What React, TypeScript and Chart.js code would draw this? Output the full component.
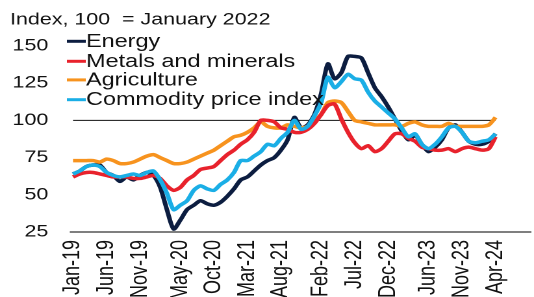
import React, { useEffect, useRef } from 'react';
import { Chart, registerables } from 'chart.js';

Chart.register(...registerables);

const months = [
  'Jan-19','Feb-19','Mar-19','Apr-19','May-19','Jun-19','Jul-19','Aug-19','Sep-19','Oct-19','Nov-19','Dec-19',
  'Jan-20','Feb-20','Mar-20','Apr-20','May-20','Jun-20','Jul-20','Aug-20','Sep-20','Oct-20','Nov-20','Dec-20',
  'Jan-21','Feb-21','Mar-21','Apr-21','May-21','Jun-21','Jul-21','Aug-21','Sep-21','Oct-21','Nov-21','Dec-21',
  'Jan-22','Feb-22','Mar-22','Apr-22','May-22','Jun-22','Jul-22','Aug-22','Sep-22','Oct-22','Nov-22','Dec-22',
  'Jan-23','Feb-23','Mar-23','Apr-23','May-23','Jun-23','Jul-23','Aug-23','Sep-23','Oct-23','Nov-23','Dec-23',
  'Jan-24','Feb-24','Mar-24','Apr-24',
];

const tickLabels = ['Jan-19','Jun-19','Nov-19','May-20','Oct-20','Mar-21','Aug-21','Feb-22','Jul-22','Dec-22','Jun-23','Nov-23','Apr-24'];

const energy = [
  64,66,69,70,70,65,63,59,62,60,63,65,
  63,55,40,27,33,40,43,46,44,43,45,49,
  54,60,62,66,70,73,75,80,87,102,95,97,
  104,118,138,128,132,143,143,142,132,122,116,109,
  101,93,87,90,84,79,82,87,95,97,92,86,
  84,84,86,91,
];

const metals = [
  62,64,65,65,64,63,62,62,62,61,61,62,
  63,61,56,53,55,60,63,67,68,69,73,77,
  80,84,87,92,100,100,99,95,94,92,92,94,
  98,104,110,111,101,92,85,81,83,79,81,86,
  91,91,88,86,82,81,80,80,81,79,81,82,
  81,80,81,89,
];

const agriculture = [
  73,73,73,73,72,74,73,71,71,72,74,76,
  77,75,73,71,71,72,74,76,78,80,83,86,
  89,90,92,95,99,96,95,95,97,96,95,96,
  100,104,112,113,112,106,100,99,98,97,97,97,
  97,96,98,99,97,96,96,96,98,96,96,96,
  96,96,97,102,
];

const commodity = [
  64,66,69,70,69,65,63,62,63,64,63,65,
  66,60,51,40,43,46,53,56,54,53,57,60,
  65,73,73,76,79,84,83,88,92,100,94,96,
  103,112,129,122,126,131,128,127,119,113,109,105,
  101,95,89,91,84,81,84,89,95,96,92,86,
  85,86,87,91,
];

const yTicks = [25, 50, 75, 100, 125, 150];

const titleText = 'Index, 100  = January 2022';

const series = [
  { label: 'Energy', data: energy, color: '#0c1d40', order: 3 },
  { label: 'Metals and minerals', data: metals, color: '#e8222c', order: 1 },
  { label: 'Agriculture', data: agriculture, color: '#f7931e', order: 2 },
  { label: 'Commodity price index', data: commodity, color: '#1aaee6', order: 0 },
];

const FONT = '"Liberation Sans", Arial, sans-serif';
const W = 411;
const H = 297;

export default function App() {
  const ref = useRef<HTMLCanvasElement | null>(null);

  useEffect(() => {
    if (!ref.current) return;
    const decor = {
      id: 'decor',
      beforeDatasetsDraw(chart: any) {
        const { ctx, chartArea, scales } = chart;
        ctx.save();
        const y100 = scales.y.getPixelForValue(100);
        ctx.strokeStyle = '#111111';
        ctx.lineWidth = 1;
        ctx.beginPath();
        ctx.moveTo(chartArea.left, y100);
        ctx.lineTo(chartArea.right, y100);
        ctx.stroke();
        ctx.strokeStyle = '#555555';
        ctx.lineWidth = 1.5;
        ctx.beginPath();
        ctx.moveTo(chartArea.left - 2.5, chartArea.bottom);
        ctx.lineTo(W - 2, chartArea.bottom);
        ctx.stroke();
        ctx.restore();
      },
      afterDraw(chart: any) {
        const { ctx } = chart;
        ctx.save();
        ctx.fillStyle = '#111111';
        ctx.textBaseline = 'middle';
        ctx.textAlign = 'left';
        ctx.font = `16.5px ${FONT}`;
        ctx.fillText(titleText, 7.7, 20);
        const rows = [41.3, 61.3, 79.9, 99.7];
        ctx.font = `18px ${FONT}`;
        series.forEach((s, i) => {
          ctx.strokeStyle = s.color;
          ctx.lineWidth = 3;
          ctx.beginPath();
          ctx.moveTo(51.5, rows[i]);
          ctx.lineTo(66, rows[i]);
          ctx.stroke();
          ctx.fillStyle = '#111111';
          ctx.fillText(s.label, 66.2, rows[i] + 0.5);
        });
        ctx.restore();
      },
    };

    const chart = new Chart(ref.current, {
      type: 'line',
      data: {
        labels: months,
        datasets: series.map((s) => ({
          label: s.label,
          data: s.data,
          borderColor: s.color,
          backgroundColor: s.color,
          borderWidth: 3.5,
          pointRadius: 0,
          tension: 0.25,
          fill: false,
          order: s.order,
        })),
      },
      options: {
        responsive: false,
        animation: false,
        devicePixelRatio: 2,
        layout: { padding: { top: 46, right: 9.5, left: 0, bottom: 0 } },
        plugins: {
          legend: { display: false },
          title: { display: false },
          tooltip: { enabled: false },
        },
        scales: {
          x: {
            type: 'category',
            offset: false,
            grid: { display: false, drawTicks: false },
            border: { display: false },
            afterFit: (scale: any) => { scale.height = 65; },
            ticks: {
              autoSkip: false,
              minRotation: 90,
              maxRotation: 90,
              padding: 8,
              color: '#111111',
              font: { family: FONT, size: 18 },
              callback: (_v: any, i: number) => (tickLabels.includes(months[i]) ? months[i] : ''),
            },
          },
          y: {
            min: yTicks[0],
            max: yTicks[yTicks.length - 1],
            grid: { display: false, drawTicks: false },
            border: { display: false },
            afterFit: (scale: any) => { scale.width = 56.2; },
            afterBuildTicks: (scale: any) => { scale.ticks = yTicks.map((v) => ({ value: v })); },
            ticks: {
              padding: 19,
              color: '#111111',
              font: { family: FONT, size: 16.5 },
            },
          },
        },
      },
      plugins: [decor],
    });
    return () => chart.destroy();
  }, []);

  return (
    <canvas
      ref={ref}
      width={W}
      height={H}
      style={{ position: 'absolute', left: 0, top: 0, width: '534px', height: '297px' }}
    />
  );
}
